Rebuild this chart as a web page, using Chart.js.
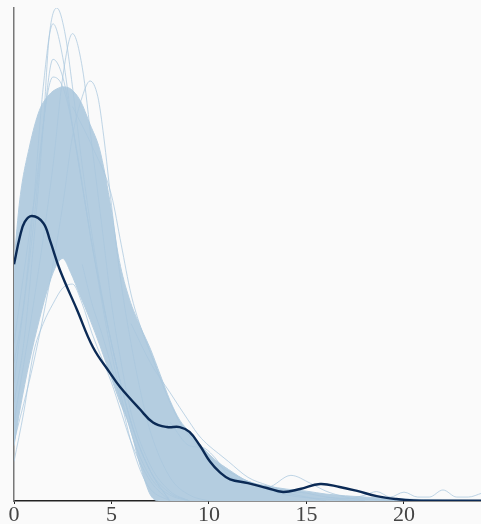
<!DOCTYPE html>
<html>
<head>
<meta charset="utf-8">
<script src="https://cdn.jsdelivr.net/npm/chart.js@4"></script>
<style>
  html, body { margin: 0; padding: 0; background: #fafafa; }
  #wrap { width: 481px; height: 524px; }
</style>
</head>
<body>
<div id="wrap"><canvas id="ppcChart" width="481" height="524"></canvas></div>
<script>
// observed density (dark line)
const obsX = [0, 0.3, 0.55, 0.92, 1.5, 1.85, 2.36, 3.23, 4.05, 4.92, 5.44, 6.46, 7.13, 7.85, 8.5, 9.0, 9.54, 10.05, 10.56, 11.08, 12.0, 12.97, 13.8, 14.67, 15.7, 16.7, 17.6, 18.6, 19.6, 20.5, 22, 24];
const obsY = [0.120, 0.134, 0.1415, 0.1445, 0.141, 0.132, 0.117, 0.097, 0.078, 0.065, 0.0578, 0.0465, 0.0398, 0.0375, 0.0375, 0.035, 0.028, 0.020, 0.0145, 0.011, 0.0091, 0.0066, 0.0046, 0.0061, 0.0086, 0.0071, 0.0051, 0.0025, 0.001, 0.0003, 0.0002, 0.0002];

// dense part of the posterior predictive curves (upper / lower edge)
const bandX = [0, 0.3, 0.8, 1.3, 1.8, 2.2, 2.5, 2.9, 3.4, 3.9, 4.4, 4.9, 5.4, 5.9, 6.5, 7.0, 7.5, 8.0, 8.5, 9.0, 9.5, 10.3, 11, 12, 13, 14, 15, 16, 18, 20, 22, 24];
const bandUpper = [0.121, 0.153, 0.180, 0.198, 0.206, 0.209, 0.210, 0.209, 0.203, 0.191, 0.178, 0.153, 0.122, 0.103, 0.088, 0.077, 0.064, 0.051, 0.041, 0.035, 0.029, 0.021, 0.016, 0.010, 0.0076, 0.006, 0.005, 0.0035, 0.002, 0.001, 0.0005, 0.0003];
const bandLower = [0.028, 0.046, 0.071, 0.092, 0.110, 0.120, 0.123, 0.116, 0.104, 0.092, 0.079, 0.065, 0.051, 0.0385, 0.017, 0.003, 0, 0, 0, 0, 0, 0, 0, 0, 0, 0, 0, 0, 0, 0, 0, 0];

// individual predictive curves that stick out of the band
const ppcA = [[0,0.05],[0.5,0.08],[1,0.13],[1.5,0.19],[1.8,0.235],[2.2,0.25],[2.6,0.238],[3,0.21],[3.5,0.17],[4,0.135],[4.5,0.105],[5,0.08],[6,0.04],[7,0.015],[8,0.004],[9,0]];
const ppcB = [[0,0.07],[0.5,0.1],[1,0.15],[1.5,0.21],[2,0.242],[2.5,0.225],[3,0.19],[3.5,0.16],[4,0.13],[5,0.075],[6,0.035],[7,0.012],[8,0.003],[9,0]];
const ppcC = [[0,0.04],[1,0.1],[2,0.17],[2.5,0.215],[3,0.237],[3.5,0.22],[4,0.18],[4.5,0.14],[5,0.1],[5.5,0.07],[6,0.045],[7,0.018],[8,0.005],[9,0]];
const ppcD = [[0,0.06],[1,0.14],[1.5,0.19],[2,0.224],[2.5,0.215],[3,0.19],[3.5,0.16],[4,0.13],[5,0.08],[6,0.04],[7,0.015],[8,0]];
const ppcE = [[0,0.03],[1,0.07],[2,0.12],[2.5,0.15],[3,0.185],[3.5,0.205],[3.9,0.213],[4.3,0.205],[4.6,0.185],[5,0.15],[5.5,0.11],[6,0.08],[6.5,0.055],[7,0.035],[8,0.012],[9,0.003],[10,0]];
const ppcF = [[0,0.08],[1,0.15],[2,0.215],[2.5,0.21],[3,0.19],[4,0.13],[5,0.08],[6,0.04],[7,0.015],[8,0]];
const ppcH = [[3,0.2],[4,0.18],[5,0.155],[5.5,0.13],[6,0.105],[6.5,0.088],[7,0.075],[7.5,0.062],[8,0.05],[8.5,0.04],[9,0.033],[9.5,0.027],[10,0.022],[11,0.015],[12,0.01],[13,0.006],[14,0.003],[16,0.001],[18,0]];
const ppcI = [[6,0.09],[7,0.07],[8,0.055],[9,0.04],[9.5,0.033],[10,0.028],[10.5,0.024],[11,0.02],[12,0.012],[13,0.008],[14,0.005],[15,0.004],[16,0.002],[18,0.001],[20,0]];
const ppcJ = [[8,0.04],[9,0.028],[9.7,0.027],[10.3,0.022],[11,0.013],[12,0.009],[13,0.006],[14,0.004],[15,0.002],[16,0]];
const ppcK = [[11,0.012],[12,0.01],[13,0.007],[14.2,0.013],[15.2,0.009],[16,0.005],[17,0.002],[18,0]];
const ppcL = [[16,0.002],[17,0.001],[18,0.003],[18.6,0.0048],[19.3,0.002],[20,0.0045],[20.7,0.002],[21.3,0.002],[22,0.0056],[22.7,0.002],[23.3,0.002],[24,0.004]];
const ppcM = [[0,0.02],[0.5,0.045],[1,0.075],[1.5,0.09],[2,0.1],[2.5,0.108],[3,0.11],[3.5,0.1],[4,0.085],[5,0.06],[5.5,0.045],[6,0.03],[7,0.01],[8,0]];
const ppcN = [[3.5,0.12],[4,0.1],[4.5,0.085],[5,0.068],[5.5,0.05],[6,0.03],[6.5,0.015],[7,0.006],[8,0]];

const xTicks = [0, 5, 10, 15, 20];

const lightBlue = 'rgb(180, 205, 224)';
const lineBlue = 'rgba(170, 199, 221, 0.75)';
const darkBlue = '#0b2a55';

const toPts = (xs, ys) => xs.map((x, i) => ({ x: x, y: ys[i] }));
const pairPts = arr => arr.map(p => ({ x: p[0], y: p[1] }));

const sampleCurves = [ppcA, ppcB, ppcC, ppcD, ppcE, ppcF, ppcH, ppcI, ppcJ, ppcK, ppcL, ppcM, ppcN];

const datasets = [{
    label: 'Observed',
    data: toPts(obsX, obsY),
    borderColor: darkBlue,
    borderWidth: 2.4,
    pointRadius: 0,
    fill: false,
    tension: 0.4
}];

sampleCurves.forEach((c, i) => {
    datasets.push({
        label: 'ppc ' + i,
        data: pairPts(c),
        borderColor: lineBlue,
        borderWidth: 1,
        pointRadius: 0,
        fill: false,
        cubicInterpolationMode: 'monotone'
    });
});

datasets.push({
    label: 'band upper',
    data: toPts(bandX, bandUpper),
    borderColor: lightBlue,
    backgroundColor: lightBlue,
    borderWidth: 1,
    pointRadius: 0,
    fill: '+1',
    cubicInterpolationMode: 'monotone'
});
datasets.push({
    label: 'band lower',
    data: toPts(bandX, bandLower),
    borderColor: lightBlue,
    borderWidth: 1,
    pointRadius: 0,
    fill: false,
    cubicInterpolationMode: 'monotone'
});

new Chart(document.getElementById('ppcChart'), {
    type: 'line',
    data: { datasets: datasets },
    options: {
        responsive: false,
        animation: false,
        layout: { padding: { left: 14, top: 8, right: 0, bottom: -2 } },
        plugins: { legend: { display: false }, tooltip: { enabled: false } },
        scales: {
            x: {
                type: 'linear',
                min: 0,
                max: 23.95,
                border: { display: true, color: '#222', width: 1.5 },
                grid: { display: true, drawOnChartArea: false, drawTicks: true, tickLength: 3, color: '#222' },
                afterBuildTicks: axis => { axis.ticks = xTicks.map(v => ({ value: v })); },
                ticks: {
                    color: '#444',
                    padding: 0,
                    maxRotation: 0,
                    font: { family: '"Liberation Serif", "Times New Roman", serif', size: 22, lineHeight: 1 }
                }
            },
            y: {
                min: 0,
                max: 0.25,
                ticks: { display: false },
                grid: { display: false, drawTicks: false },
                border: { display: true, color: '#777', width: 1.5 }
            }
        }
    }
});
</script>
</body>
</html>
